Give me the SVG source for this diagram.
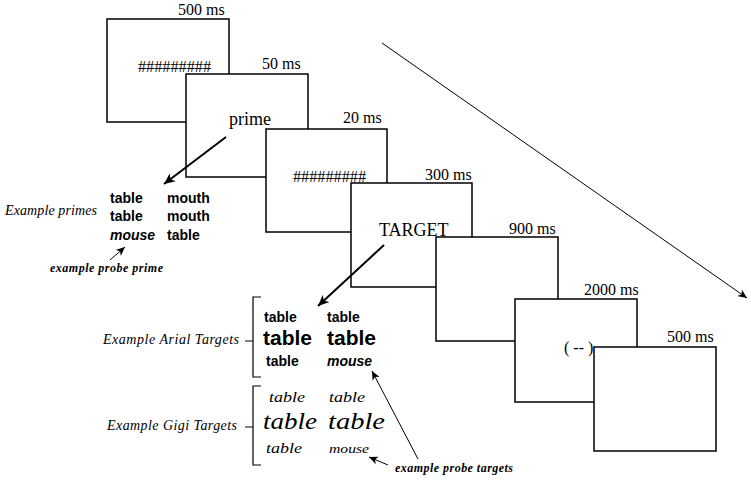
<svg xmlns="http://www.w3.org/2000/svg" width="751" height="482" viewBox="0 0 751 482">
<defs>
<style>
.box{fill:#fff;stroke:#000;stroke-width:1.5}
.t{font-family:"Liberation Serif","Times New Roman",serif;fill:#000}
.dur{font-size:16px}
.lab{font-family:"Liberation Serif","Times New Roman",serif;font-style:italic;font-size:14px}
.probe{font-family:"Liberation Serif","Times New Roman",serif;font-style:italic;font-weight:bold;font-size:12px}
.ar{font-family:"Liberation Sans",Arial,sans-serif;font-weight:bold}
.gg{font-family:"Liberation Serif","Times New Roman",serif;font-style:italic}
.thick{stroke:#000;stroke-width:2;fill:none}
.thin{stroke:#000;stroke-width:1;fill:none}
.br{stroke:#000;stroke-width:1.2;fill:none}
</style>
<marker id="hd" markerUnits="userSpaceOnUse" markerWidth="12" markerHeight="10" refX="11" refY="5" orient="auto">
<path d="M0,0 L11,5 L0,10 L3,5 Z" fill="#000"/>
</marker>
<marker id="hs" markerUnits="userSpaceOnUse" markerWidth="10" markerHeight="8" refX="9" refY="4" orient="auto">
<path d="M0,0 L9,4 L0,8 L2.5,4 Z" fill="#000"/>
</marker>
</defs>
<rect width="751" height="482" fill="#fff"/>

<g id="screen1">
<rect class="box" x="107" y="19" width="122" height="103"/>
<text class="t dur" x="178" y="15">500 ms</text>
<text class="t" x="138" y="72" font-size="16" textLength="73" lengthAdjust="spacingAndGlyphs">#########</text>
</g>
<g id="screen2">
<rect class="box" x="186" y="74" width="122" height="103"/>
<text class="t dur" x="262" y="69">50 ms</text>
<text class="t" x="229" y="125" font-size="18">prime</text>
</g>
<g id="screen3">
<rect class="box" x="266" y="129" width="121" height="103"/>
<text class="t dur" x="343" y="123">20 ms</text>
<text class="t" x="293" y="182" font-size="16" textLength="73" lengthAdjust="spacingAndGlyphs">#########</text>
</g>
<g id="screen4">
<rect class="box" x="351" y="183" width="121" height="104"/>
<text class="t dur" x="425" y="180">300 ms</text>
<text class="t" x="379" y="236" font-size="18">TARGET</text>
</g>
<g id="screen5">
<rect class="box" x="436" y="237" width="122" height="104"/>
<text class="t dur" x="509" y="234">900 ms</text>
</g>
<g id="screen6">
<rect class="box" x="515" y="299" width="122" height="103"/>
<text class="t dur" x="584" y="295">2000 ms</text>
<text class="t" x="564" y="353" font-size="16">( -- )</text>
</g>
<g id="screen7">
<rect class="box" x="594" y="347" width="122" height="104"/>
<text class="t dur" x="667" y="342">500 ms</text>
</g>

<g id="primes">
<text class="lab" x="5" y="215" textLength="92" lengthAdjust="spacing">Example primes</text>
<text class="ar" font-size="14" x="110" y="203">table</text>
<text class="ar" font-size="14" x="167" y="203">mouth</text>
<text class="ar" font-size="14" x="110" y="221">table</text>
<text class="ar" font-size="14" x="167" y="221">mouth</text>
<text class="ar" font-size="14" x="110" y="240" font-style="italic">mouse</text>
<text class="ar" font-size="14" x="167" y="240">table</text>
<text class="probe" x="50" y="272" textLength="113" lengthAdjust="spacing">example probe prime</text>
</g>

<g id="arial-targets">
<text class="lab" x="103" y="344" textLength="136" lengthAdjust="spacing">Example Arial Targets</text>
<path class="br" d="M261,297 H253 V377 H261 M245,341 H253"/>
<text class="ar" font-size="14" x="264" y="322">table</text>
<text class="ar" font-size="14" x="327" y="322">table</text>
<text class="ar" font-size="21" x="263" y="345">table</text>
<text class="ar" font-size="21" x="327" y="345">table</text>
<text class="ar" font-size="14" x="266" y="366">table</text>
<text class="ar" font-size="14" x="327" y="366" font-style="italic">mouse</text>
</g>

<g id="gigi-targets">
<text class="lab" x="107" y="430" textLength="130" lengthAdjust="spacing">Example Gigi Targets</text>
<path class="br" d="M261,386 H253 V465 H261 M245,427 H253"/>
<text class="gg" font-size="14" x="269" y="402" textLength="36" lengthAdjust="spacingAndGlyphs">table</text>
<text class="gg" font-size="14" x="329" y="402" textLength="36" lengthAdjust="spacingAndGlyphs">table</text>
<text class="gg" font-size="23" x="263" y="429" textLength="54" lengthAdjust="spacingAndGlyphs">table</text>
<text class="gg" font-size="23" x="328" y="429" textLength="57" lengthAdjust="spacingAndGlyphs">table</text>
<text class="gg" font-size="14" x="266" y="453" textLength="36" lengthAdjust="spacingAndGlyphs">table</text>
<text class="gg" font-size="13" x="329" y="453" textLength="40" lengthAdjust="spacingAndGlyphs">mouse</text>
<text class="probe" x="395" y="472" textLength="118" lengthAdjust="spacing">example probe targets</text>
</g>

<g id="connectors">
<line class="thin" x1="382" y1="43" x2="747" y2="298" marker-end="url(#hs)"/>
<line class="thick" x1="226" y1="137" x2="164" y2="184" marker-end="url(#hd)"/>
<line class="thick" x1="384" y1="245" x2="318" y2="306" marker-end="url(#hd)"/>
<line class="thin" x1="110" y1="260" x2="125" y2="247" marker-end="url(#hs)"/>
<line class="thin" x1="418" y1="459" x2="372" y2="371" marker-end="url(#hs)"/>
<line class="thin" x1="388" y1="465" x2="369" y2="457" marker-end="url(#hs)"/>
</g>
</svg>
